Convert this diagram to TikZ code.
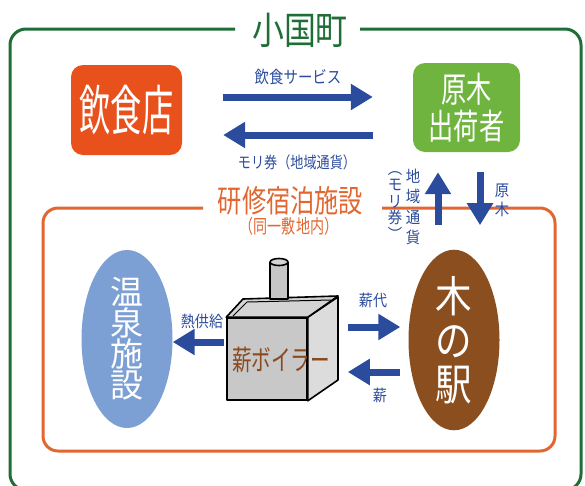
\documentclass[tikz,border=0pt]{standalone}
\usepackage{fontspec}
\usetikzlibrary{arrows.meta,calc,shapes.geometric}

% Japanese gothic at a given size, line pitch and horizontal stretch
\newcommand\jpf[3]{\fontspec[FakeStretch=#3]{Noto Sans CJK JP}\fontsize{#1}{#2}\selectfont}

\definecolor{framegreen}{HTML}{1F6E37}
\definecolor{frameorange}{HTML}{E2662F}
\definecolor{shopred}{HTML}{E8501C}
\definecolor{loggreen}{HTML}{6EB43F}
\definecolor{flowblue}{HTML}{2B4C9C}
\definecolor{spablue}{HTML}{7C9FD4}
\definecolor{woodbrown}{HTML}{8B4E1F}
\definecolor{boilerfront}{HTML}{C8C8C8}
\definecolor{boilerside}{HTML}{DCDCDC}
\definecolor{boilertop}{HTML}{D4D4D4}
\definecolor{boilertext}{HTML}{8B4A1E}

\begin{document}
\begin{tikzpicture}[x=1pt,y=-1pt,
  greenline/.style={draw=framegreen, line width=3pt},
  orangeline/.style={draw=frameorange, line width=3pt},
  actor/.style={rounded corners=12pt, inner sep=0pt, text=white, align=center},
  place/.style={ellipse, inner sep=0pt, minimum width=91pt, minimum height=178pt, text=white, align=center},
  flow/.style={draw=flowblue, line width=7pt, -{Triangle[length=22pt,width=25pt]}},
  flowlabel/.style={text=flowblue, inner sep=0pt, align=center},
  boxline/.style={draw=black, line width=1.6pt, line join=round}
]
\useasboundingbox (0,0) rectangle (585,485);
\clip (0,0) rectangle (585,485);

% town frame with its title
\draw[greenline, rounded corners=16pt]
  (235,29) -- (10,29) -- (10,490) -- (581,490) -- (581,29) -- (360,29);
\node[text=framegreen, inner sep=0pt, font=\jpf{38pt}{40pt}{0.84}] (town) at (300,30) {小国町};

% lodging facility frame with its title
\draw[orangeline, rounded corners=15pt]
  (203,208) -- (43,208) -- (43,451) -- (555,451) -- (555,208) -- (382,208);
\node[text=frameorange, inner sep=0pt, font=\jpf{31pt}{33pt}{0.78}] (lodge) at (290.5,201) {研修宿泊施設};
\node[text=frameorange, inner sep=0pt, font=\jpf{19pt}{21pt}{0.74}] (lodgesub) at (289,226) {（同一敷地内）};

% actors
\node[actor, fill=shopred, minimum width=111pt, minimum height=90pt,
      font=\jpf{54pt}{56pt}{0.58}] (shop) at (126.5,110) {飲食店};
\node[actor, fill=loggreen, minimum width=107pt, minimum height=89pt,
      font=\jpf{35pt}{37pt}{0.72}] (supplier) at (466.5,107.5) {原木\\出荷者};

\node[place, fill=spablue, font=\jpf{33pt}{31pt}{1.0}] (spa) at (127,339) {温\\泉\\施\\設};
\node[place, fill=woodbrown, minimum height=180pt, font=\jpf{43pt}{44pt}{0.85}] (station) at (454,340) {木\\の\\駅};

% wood boiler drawn as a box with a chimney
\node[boxline, fill=boilerfront, minimum width=80pt, minimum height=82pt, inner sep=0pt] (boiler) at (267,359) {};
\draw[boxline, fill=boilerside] (boiler.north east) -- (338,297) -- (338,380) -- (boiler.south east) -- cycle;
\draw[boxline, fill=boilertop] (boiler.north west) -- (243,299) -- (338,296) -- (boiler.north east) -- cycle;
\draw[black, line width=1pt] (233,316) -- (247,302) -- (331,300);
\draw[boxline, fill=boilerside!90!black] (270,262) -- (270,299) -- (288,299) -- (288,262);
\draw[boxline, fill=boilertop] (279,262) ellipse [x radius=9pt, y radius=3.5pt];
\node[text=boilertext, inner sep=0pt, font=\jpf{28pt}{30pt}{0.7}] (boilerlabel) at (281,360) {薪ボイラー};

% exchanges between restaurant and log supplier
\draw[flow] ($(shop.east)+(41,-13)$) -- ($(supplier.west)+(-40,-10.5)$);
\draw[flow] ($(supplier.west)+(-40,27.5)$) -- ($(shop.east)+(41,25)$);
\node[flowlabel, font=\jpf{17pt}{19pt}{0.85}] (servicelabel) at (298,77) {飲食サービス};
\node[flowlabel, font=\jpf{16pt}{18pt}{0.82}] (voucherlabel) at (297,162) {モリ券（地域通貨）};

% exchanges between log supplier and the wood station
\draw[flow] ($(supplier.south)+(-28.5,73)$) -- ($(supplier.south)+(-28.5,20)$);
\draw[flow] ($(supplier.south)+(13.5,20)$) -- ($(supplier.south)+(13.5,73)$);
\node[flowlabel, font=\jpf{16pt}{20.3pt}{0.9}] (currencylabel) at (413,207) {地\\域\\通\\貨};
\node[flowlabel, font=\jpf{16pt}{16.5pt}{0.9}] (voucherv) at (395,206) {︵\\モ\\リ\\券\\︶};
\node[flowlabel, font=\jpf{16pt}{19pt}{0.9}] (loglabel) at (502,200) {原\\木};

% exchanges around the boiler
\draw[flow] ($(boiler.west)+(-2,-17)$) -- ($(spa.east)+(0,3)$);
\node[flowlabel, font=\jpf{16pt}{18pt}{0.88}] (heatlabel) at (202,321) {熱供給};
\draw[flow] ($(boiler.east)+(40,-32)$) -- ($(station.west)+(-8,-13)$);
\node[flowlabel, font=\jpf{16pt}{18pt}{0.88}] (paylabel) at (373,300) {薪代};
\draw[flow] ($(station.west)+(-8,32)$) -- ($(boiler.east)+(40,13)$);
\node[flowlabel, font=\jpf{16pt}{18pt}{0.88}] (firewoodlabel) at (380,395) {薪};
\end{tikzpicture}
\end{document}
